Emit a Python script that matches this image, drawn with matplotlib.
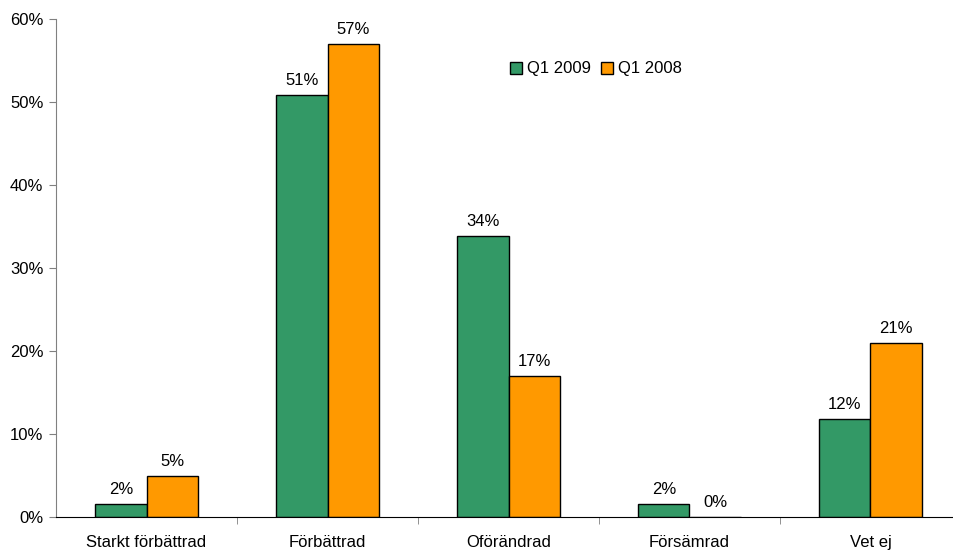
import numpy as np
import matplotlib.pyplot as plt
from matplotlib.patches import Patch

plt.rcParams['font.family'] = ['Liberation Sans', 'DejaVu Sans']

kategorier = ['Starkt förbättrad', 'Förbättrad', 'Oförändrad', 'Försämrad', 'Vet ej']
q1_2009 = [1.6, 50.8, 33.9, 1.6, 11.8]
q1_2008 = [4.95, 57.0, 16.95, 0.0, 20.95]
etiketter_2009 = ['2%', '51%', '34%', '2%', '12%']
etiketter_2008 = ['5%', '57%', '17%', '0%', '21%']

W, H = 954, 551
fig = plt.figure(figsize=(W / 100, H / 100), dpi=100)
ax = fig.add_axes([56 / W, (H - 517) / H, (961 - 56) / W, (517 - 19) / H])

x = np.arange(len(kategorier))
b = 0.283
gron = '#339966'
orange = '#FF9900'
fs = 12

ax.bar(x - b / 2, q1_2009, b, color=gron, edgecolor='black', linewidth=1)
ax.bar(x + b / 2, q1_2008, b, color=orange, edgecolor='black', linewidth=1)

for i in range(len(x)):
    ax.annotate(etiketter_2009[i], (x[i] - b / 2, q1_2009[i]), xytext=(0, 5),
                textcoords='offset points', ha='center', va='bottom', fontsize=fs)
    ax.annotate(etiketter_2008[i], (x[i] + b / 2, q1_2008[i]), xytext=(0, 5),
                textcoords='offset points', ha='center', va='bottom', fontsize=fs)

ax.set_xlim(-0.5, len(x) - 0.5)
ax.set_ylim(0, 60)
ax.set_yticks(np.arange(0, 61, 10))
ax.set_yticklabels([f'{v}%' for v in range(0, 61, 10)], fontsize=fs)

ax.set_xticks(x)
ax.set_xticklabels(kategorier, fontsize=fs)
ax.tick_params(axis='x', length=0, pad=13)
ax.set_xticks(np.arange(0.5, len(x) - 0.5, 1), minor=True)
ax.tick_params(axis='x', which='minor', length=5, direction='out', color='#808080')
ax.tick_params(axis='y', length=5, direction='out', color='#808080', pad=4)

ax.spines['top'].set_visible(False)
ax.spines['right'].set_visible(False)
ax.spines['left'].set_color('#808080')
ax.spines['bottom'].set_color('black')

handles = [Patch(facecolor=gron, edgecolor='black'), Patch(facecolor=orange, edgecolor='black')]
fig.legend(handles, ['Q1 2009', 'Q1 2008'], loc='center', bbox_to_anchor=(596 / W, 1 - 69 / H),
           ncol=2, frameon=False, fontsize=fs, handlelength=0.7, handleheight=0.7,
           handletextpad=0.3, columnspacing=0.6)

fig.savefig('out.png', dpi=100)
